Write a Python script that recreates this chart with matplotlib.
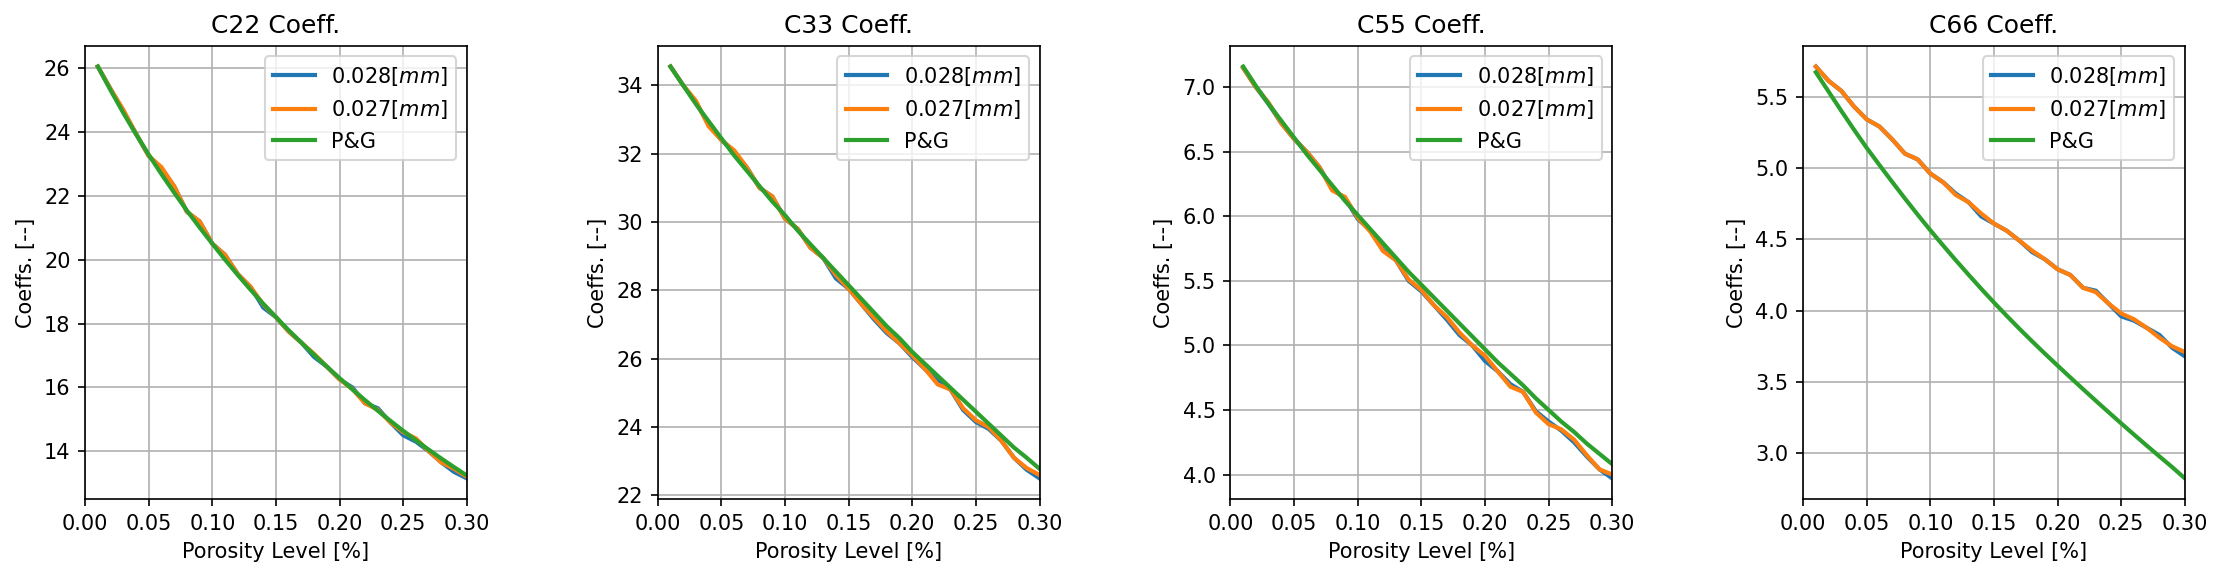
import matplotlib
matplotlib.use("Agg")
import matplotlib.pyplot as plt
import numpy as np

# porosity levels
porosity = np.round(np.arange(1, 31) * 0.01, 2)

titles = ["C22 Coeff.", "C33 Coeff.", "C55 Coeff.", "C66 Coeff."]
labels = ["0.028$[mm]$", "0.027$[mm]$", "P&G"]

# C22
c22_028 = [26.05, 25.35, 24.65, 23.95, 23.25, 22.85, 22.3, 21.5, 21.2, 20.5,
           20.15, 19.55, 19.15, 18.5, 18.2, 17.75, 17.4, 16.95, 16.65, 16.25,
           16.0, 15.5, 15.35, 14.9, 14.5, 14.3, 14.0, 13.65, 13.35, 13.15]
c22_027 = [26.05, 25.35, 24.7, 23.95, 23.25, 22.9, 22.3, 21.5, 21.2, 20.5,
           20.15, 19.55, 19.15, 18.6, 18.2, 17.75, 17.4, 17.05, 16.65, 16.25,
           15.95, 15.5, 15.3, 14.9, 14.6, 14.4, 14.0, 13.65, 13.45, 13.2]
c22_pg = [26.05, 25.31, 24.6, 23.93, 23.29, 22.68, 22.1, 21.54, 21.01, 20.5,
          20.0, 19.52, 19.06, 18.62, 18.2, 17.79, 17.4, 17.02, 16.65, 16.29,
          15.94, 15.6, 15.27, 14.95, 14.64, 14.34, 14.05, 13.77, 13.5, 13.24]

# C33
c33_028 = [34.55, 34.0, 33.5, 32.85, 32.4, 32.05, 31.6, 31.0, 30.75, 30.1,
           29.8, 29.25, 28.95, 28.35, 28.05, 27.6, 27.15, 26.75, 26.45, 26.05,
           25.7, 25.35, 25.1, 24.5, 24.15, 23.95, 23.6, 23.1, 22.75, 22.5]
c33_027 = [34.55, 34.0, 33.55, 32.8, 32.4, 32.1, 31.6, 31.0, 30.75, 30.1,
           29.8, 29.25, 28.95, 28.45, 28.05, 27.6, 27.2, 26.8, 26.45, 26.1,
           25.7, 25.25, 25.1, 24.55, 24.2, 24.0, 23.6, 23.1, 22.8, 22.6]
c33_pg = [34.55, 34.0, 33.45, 32.95, 32.45, 31.95, 31.5, 31.05, 30.6, 30.2,
          29.75, 29.35, 28.95, 28.55, 28.15, 27.75, 27.35, 26.95, 26.6, 26.2,
          25.85, 25.5, 25.15, 24.8, 24.45, 24.1, 23.75, 23.4, 23.1, 22.78]

# C55
c55_028 = [7.15, 7.0, 6.87, 6.72, 6.6, 6.5, 6.38, 6.21, 6.14, 5.98,
           5.89, 5.74, 5.66, 5.5, 5.42, 5.31, 5.2, 5.08, 5.0, 4.88,
           4.8, 4.7, 4.64, 4.49, 4.41, 4.34, 4.25, 4.14, 4.04, 3.97]
c55_027 = [7.15, 7.0, 6.88, 6.72, 6.6, 6.5, 6.38, 6.2, 6.15, 5.99,
           5.88, 5.73, 5.66, 5.51, 5.43, 5.31, 5.22, 5.1, 5.0, 4.92,
           4.8, 4.68, 4.64, 4.48, 4.39, 4.35, 4.27, 4.15, 4.04, 4.0]
c55_pg = [7.16, 7.01, 6.87, 6.74, 6.61, 6.48, 6.36, 6.24, 6.12, 6.01,
          5.9, 5.79, 5.68, 5.57, 5.47, 5.37, 5.27, 5.17, 5.07, 4.97,
          4.87, 4.78, 4.69, 4.59, 4.5, 4.41, 4.33, 4.24, 4.16, 4.08]

# C66
c66_028 = [5.71, 5.61, 5.54, 5.43, 5.34, 5.29, 5.2, 5.1, 5.06, 4.96,
           4.9, 4.82, 4.76, 4.66, 4.61, 4.56, 4.49, 4.41, 4.36, 4.29,
           4.25, 4.16, 4.14, 4.05, 3.96, 3.93, 3.88, 3.83, 3.74, 3.68]
c66_027 = [5.71, 5.61, 5.54, 5.43, 5.34, 5.29, 5.2, 5.1, 5.06, 4.96,
           4.9, 4.81, 4.76, 4.68, 4.61, 4.56, 4.49, 4.42, 4.36, 4.29,
           4.25, 4.16, 4.13, 4.05, 3.98, 3.94, 3.88, 3.81, 3.75, 3.71]
c66_pg = [5.67, 5.535, 5.4, 5.268, 5.14, 5.02, 4.902, 4.786, 4.673, 4.563,
          4.457, 4.353, 4.252, 4.153, 4.057, 3.964, 3.873, 3.785, 3.699, 3.615,
          3.532, 3.45, 3.369, 3.289, 3.21, 3.132, 3.055, 2.979, 2.904, 2.825]

series = [
    (c22_028, c22_027, c22_pg),
    (c33_028, c33_027, c33_pg),
    (c55_028, c55_027, c55_pg),
    (c66_028, c66_027, c66_pg),
]

dpi = 150
fig, axes = plt.subplots(1, 4, figsize=(2222 / dpi, 577 / dpi), dpi=dpi)
fig.subplots_adjust(left=0.0383, right=0.9833, top=0.9203, bottom=0.1352, wspace=0.5)

for ax, title, data in zip(axes, titles, series):
    for y, lab in zip(data, labels):
        ax.plot(porosity, y, label=lab, linewidth=2)
    ax.set_xlim(0, 0.3)
    ax.set_title(title)
    ax.set_xlabel("Porosity Level [%]")
    ax.set_ylabel("Coeffs. [--]")
    ax.grid(True)
    ax.legend(loc="upper right")

plt.savefig("out.png", dpi=dpi)
